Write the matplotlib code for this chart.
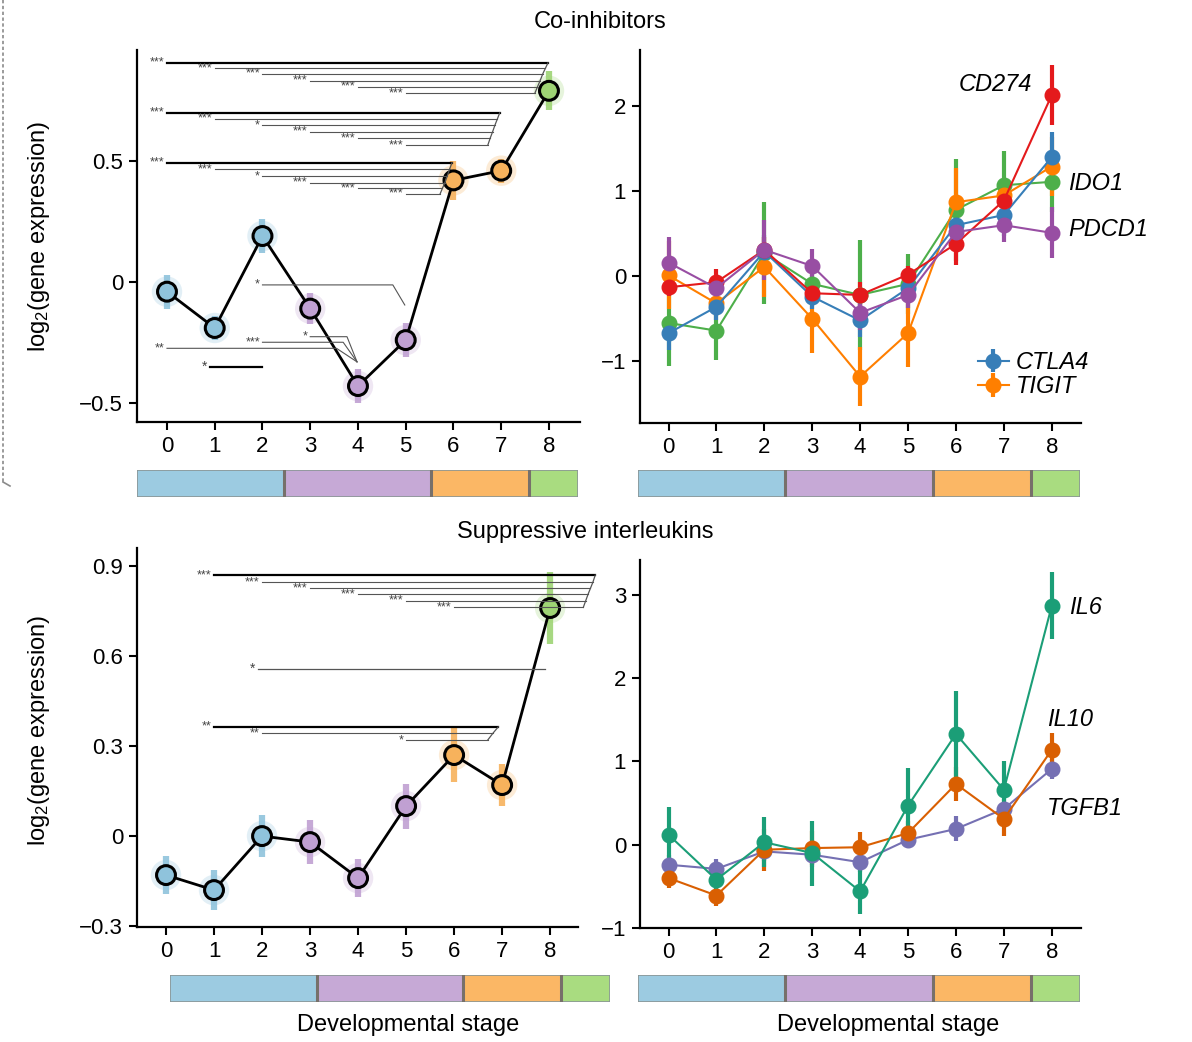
import matplotlib
matplotlib.use('Agg')
import matplotlib.pyplot as plt
from matplotlib.lines import Line2D
import numpy as np

plt.rcParams['font.family'] = ['Liberation Sans', 'DejaVu Sans']
plt.rcParams['mathtext.fontset'] = 'custom'
plt.rcParams['mathtext.rm'] = 'Liberation Sans'
plt.rcParams['mathtext.it'] = 'Liberation Sans:italic'

# ---------------- data ----------------
stages = list(range(9))
stage_group_widths = [3, 3, 2, 1]
stage_group_colors = ['#9ccbe1', '#c6a9d6', '#fbb765', '#a9dc80']
stage_point_colors = ['#8fc3dc'] * 3 + ['#c0a0d2'] * 3 + ['#f7b25c'] * 2 + ['#9ed474']

# Co-inhibitors, overall (left)
coinhib_mean = [-0.04, -0.19, 0.19, -0.11, -0.43, -0.24, 0.42, 0.46, 0.79]
coinhib_err = [0.07, 0.05, 0.07, 0.065, 0.07, 0.07, 0.08, 0.05, 0.08]

# Suppressive interleukins, overall (left)
interleukin_mean = [-0.13, -0.18, 0.0, -0.02, -0.14, 0.10, 0.27, 0.17, 0.76]
interleukin_err = [0.064, 0.067, 0.07, 0.072, 0.064, 0.075, 0.09, 0.07, 0.12]

# Co-inhibitor genes (right)
coinhib_genes = ['IDO1', 'TIGIT', 'CTLA4', 'CD274', 'PDCD1']
coinhib_colors = ['#4daf4a', '#ff7f00', '#377eb8', '#e41a1c', '#984ea3']
CD274 = [-0.13, -0.07, 0.31, -0.20, -0.22, 0.02, 0.38, 0.89, 2.13]
CD274_err = [0.10, 0.15, 0.15, 0.12, 0.15, 0.10, 0.25, 0.20, 0.35]
CTLA4 = [-0.67, -0.36, 0.29, -0.24, -0.52, -0.14, 0.60, 0.72, 1.40]
CTLA4_err = [0.20, 0.15, 0.20, 0.15, 0.20, 0.15, 0.20, 0.25, 0.30]
TIGIT = [0.01, -0.32, 0.11, -0.50, -1.18, -0.67, 0.87, 0.95, 1.29]
TIGIT_err = [0.40, 0.15, 0.35, 0.40, 0.35, 0.40, 0.40, 0.20, 0.35]
IDO1 = [-0.55, -0.64, 0.27, -0.09, -0.22, -0.09, 0.78, 1.07, 1.11]
IDO1_err = [0.50, 0.35, 0.60, 0.25, 0.65, 0.35, 0.60, 0.40, 0.35]
PDCD1 = [0.16, -0.14, 0.31, 0.12, -0.43, -0.22, 0.52, 0.60, 0.51]
PDCD1_err = [0.30, 0.15, 0.35, 0.20, 0.20, 0.15, 0.20, 0.20, 0.30]
coinhib_values = [IDO1, TIGIT, CTLA4, CD274, PDCD1]
coinhib_errors = [IDO1_err, TIGIT_err, CTLA4_err, CD274_err, PDCD1_err]

# Interleukin genes (right)
il_genes = ['TGFB1', 'IL10', 'IL6']
il_colors = ['#7570b3', '#d95f02', '#1b9e77']
IL6 = [0.12, -0.42, 0.03, -0.10, -0.56, 0.47, 1.33, 0.66, 2.87]
IL6_err = [0.33, 0.15, 0.30, 0.39, 0.27, 0.45, 0.52, 0.35, 0.40]
IL10 = [-0.40, -0.61, -0.06, -0.04, -0.03, 0.14, 0.73, 0.31, 1.14]
IL10_err = [0.12, 0.12, 0.25, 0.20, 0.18, 0.15, 0.20, 0.20, 0.20]
TGFB1 = [-0.24, -0.29, -0.08, -0.12, -0.21, 0.06, 0.19, 0.43, 0.91]
TGFB1_err = [0.12, 0.12, 0.12, 0.15, 0.12, 0.10, 0.15, 0.12, 0.12]
il_values = [TGFB1, IL10, IL6]
il_errors = [TGFB1_err, IL10_err, IL6_err]

# significance comparisons (start stage, label)
coinhib_sig_to8 = [(0, '***'), (1, '***'), (2, '***'), (3, '***'), (4, '***'), (5, '***')]
coinhib_sig_to7 = [(0, '***'), (1, '***'), (2, '*'), (3, '***'), (4, '***'), (5, '***')]
coinhib_sig_to6 = [(0, '***'), (1, '***'), (2, '*'), (3, '***'), (4, '***'), (5, '***')]
il_sig_to8 = [(1, '***'), (2, '***'), (3, '***'), (4, '***'), (5, '***'), (6, '***')]
il_sig_to7 = [(1, '**'), (2, '**'), (5, '*')]

# ---------------- figure ----------------
W, H = 1192, 1042
fig = plt.figure(figsize=(W / 100, H / 100), dpi=100)


def ax_px(x0, y0, x1, y1):
    return fig.add_axes([x0 / W, 1 - y1 / H, (x1 - x0) / W, (y1 - y0) / H])


def style(ax, yticks, ylabels):
    for s in ['top', 'right']:
        ax.spines[s].set_visible(False)
    for s in ['left', 'bottom']:
        ax.spines[s].set_linewidth(1.6)
    ax.set_xticks(stages)
    ax.set_xticklabels([str(s) for s in stages])
    ax.set_yticks(yticks)
    ax.set_yticklabels(ylabels)
    ax.tick_params(axis='both', length=6, width=1.5, labelsize=16, pad=4)


def stage_bar(x0, y0, x1, y1):
    b = ax_px(x0, y0, x1, y1)
    lefts = np.cumsum([0] + stage_group_widths[:-1])
    b.barh(0, stage_group_widths, left=lefts, color=stage_group_colors,
           edgecolor='#8a9696', linewidth=1.2, height=1)
    for l in lefts[1:]:
        b.axvline(l, color='#77706a', lw=2.2)
    b.set_xlim(0, sum(stage_group_widths))
    b.set_ylim(-0.5, 0.5)
    b.axis('off')


def overall(ax, mean, err):
    mean = np.array(mean)
    err = np.array(err)
    ax.scatter(stages, mean, s=480, c=stage_point_colors, alpha=0.25, linewidths=0, zorder=1)
    ax.vlines(stages, mean - err, mean + err, colors=stage_point_colors, lw=4.5, alpha=0.9, zorder=2)
    ax.plot(stages, mean, color='black', lw=2, zorder=3)
    ax.scatter(stages, mean, s=185, c=stage_point_colors, edgecolors='black', linewidths=2.2, zorder=4)


def bracket_group(ax, comps, target, ys, end_x, step):
    ends = []
    for i, ((s, lab), y) in enumerate(zip(comps, ys)):
        xe = end_x - step * i
        ends.append((xe, y))
        thick = (i == 0)
        ax.plot([s, xe], [y, y], color='black' if thick else '#555555',
                lw=1.6 if thick else 0.8, zorder=5)
        ax.text(s - 0.05, y, lab, ha='right', va='center', fontsize=9, color='#444444', zorder=5)
    ax.plot([e[0] for e in ends], [e[1] for e in ends], color='#555555', lw=0.9, zorder=5)


# ---- top-left ----
ax1 = ax_px(137, 50, 580, 422)
overall(ax1, coinhib_mean, coinhib_err)
ax1.set_xlim(-0.628, 8.65)
ax1.set_ylim(-0.5785, 0.9587)
style(ax1, [-0.5, 0, 0.5], ['\u22120.5', '0', '0.5'])
ax1.set_ylabel('log$_2$(gene expression)', fontsize=17)
bracket_group(ax1, coinhib_sig_to8, 8, [0.906, 0.883, 0.860, 0.832, 0.807, 0.780], 7.98, 0.055)
bracket_group(ax1, coinhib_sig_to7, 7, [0.700, 0.674, 0.649, 0.621, 0.595, 0.566], 6.97, 0.05)
bracket_group(ax1, coinhib_sig_to6, 6, [0.493, 0.467, 0.438, 0.410, 0.388, 0.364], 5.97, 0.05)
# lower comparisons (start, bend, end, y, end_y, label)
lower_brackets = [(2, 4.73, 4.98, -0.012, -0.095, '*'),
                  (3, 3.77, 3.98, -0.226, -0.33, '*'),
                  (2, 3.69, 3.98, -0.249, -0.33, '***'),
                  (0, 3.55, 3.98, -0.274, -0.33, '**')]
for s, bx, ex, y, ey, lab in lower_brackets:
    ax1.plot([s, bx, ex], [y, y, ey], color='#555555', lw=0.8, zorder=5)
    ax1.text(s - 0.05, y, lab, ha='right', va='center', fontsize=9, color='#444444', zorder=5)
ax1.plot([0.9, 2.0], [-0.351, -0.351], color='black', lw=1.6, zorder=5)
ax1.text(0.84, -0.351, '*', ha='right', va='center', fontsize=10, color='#444444')

# ---- top-right ----
ax2 = ax_px(640, 50, 1081, 423)
handles = {}
for g, c, v, e in zip(coinhib_genes, coinhib_colors, coinhib_values, coinhib_errors):
    h = ax2.errorbar(stages, v, yerr=e, color=c, marker='o', ms=10.5, lw=1.5,
                     elinewidth=3, capsize=0)
    handles[g] = h
ax2.set_xlim(-0.595, 8.61)
ax2.set_ylim(-1.726, 2.66)
style(ax2, [-1, 0, 1, 2], ['\u22121', '0', '1', '2'])
ax2.text(7.59, 2.25, 'CD274', style='italic', fontsize=17, ha='right', va='center')
ax2.text(8.34, 1.09, 'IDO1', style='italic', fontsize=17, ha='left', va='center')
ax2.text(8.34, 0.55, 'PDCD1', style='italic', fontsize=17, ha='left', va='center')
ax2.legend([handles['CTLA4'], handles['TIGIT']], ['CTLA4', 'TIGIT'], loc='center left',
           bbox_to_anchor=(0.74, 0.13), frameon=False, prop={'style': 'italic', 'size': 17},
           handlelength=1.3, handletextpad=0.3, labelspacing=0.05, borderpad=0)

# ---- bottom-left ----
ax3 = ax_px(137, 548, 578, 927)
overall(ax3, interleukin_mean, interleukin_err)
ax3.set_xlim(-0.604, 8.58)
ax3.set_ylim(-0.303, 0.96)
style(ax3, [-0.3, 0, 0.3, 0.6, 0.9], ['\u22120.3', '0', '0.3', '0.6', '0.9'])
ax3.set_ylabel('log$_2$(gene expression)', fontsize=17)
bracket_group(ax3, il_sig_to8, 8, [0.870, 0.846, 0.826, 0.806, 0.784, 0.762], 8.94, 0.05)
bracket_group(ax3, il_sig_to7, 7, [0.364, 0.343, 0.320], 6.92, 0.11)
ax3.plot([1.92, 7.9], [0.557, 0.557], color='#555555', lw=0.9, zorder=5)
ax3.text(1.86, 0.557, '*', ha='right', va='center', fontsize=10, color='#444444')
for ln in ax3.lines:
    ln.set_clip_on(False)

# ---- bottom-right ----
ax4 = ax_px(640, 560, 1081, 928)
for g, c, v, e in zip(il_genes, il_colors, il_values, il_errors):
    ax4.errorbar(stages, v, yerr=e, color=c, marker='o', ms=10.5, lw=1.5,
                 elinewidth=3, capsize=0)
ax4.set_xlim(-0.595, 8.61)
ax4.set_ylim(-0.996, 3.42)
style(ax4, [-1, 0, 1, 2, 3], ['\u22121', '0', '1', '2', '3'])
ax4.text(8.36, 2.85, 'IL6', style='italic', fontsize=17, ha='left', va='center')
ax4.text(7.9, 1.5, 'IL10', style='italic', fontsize=17, ha='left', va='center')
ax4.text(7.9, 0.44, 'TGFB1', style='italic', fontsize=17, ha='left', va='center')

# y-label positions (label anchor is the right edge of the rotated text)
ax1.yaxis.set_label_coords(-(137 - 52) / 443, 0.5)
ax3.yaxis.set_label_coords(-(137 - 52) / 441, 0.52)

# stage bars
stage_bar(137, 470, 578, 497)
stage_bar(638, 470, 1080, 497)
stage_bar(170, 975, 610, 1002)
stage_bar(638, 975, 1080, 1002)

# titles / labels
fig.text(600 / W, 1 - 22 / H, 'Co-inhibitors', ha='center', va='center', fontsize=17)
fig.text(585 / W, 1 - 532 / H, 'Suppressive interleukins', ha='center', va='center', fontsize=17)
fig.text(408 / W, 1 - 1025 / H, 'Developmental stage', ha='center', va='center', fontsize=17)
fig.text(888 / W, 1 - 1025 / H, 'Developmental stage', ha='center', va='center', fontsize=17)

# dashed frame on the left
fig.add_artist(Line2D([3 / W, 3 / W], [1, 1 - 482 / H], transform=fig.transFigure,
                      ls=(0, (2, 1.5)), color='#8a8a8a', lw=1.2))
fig.add_artist(Line2D([3 / W, 10 / W], [1 - 482 / H, 1 - 486 / H], transform=fig.transFigure,
                      color='#8a8a8a', lw=1.2))

fig.savefig('out.png', dpi=100)
